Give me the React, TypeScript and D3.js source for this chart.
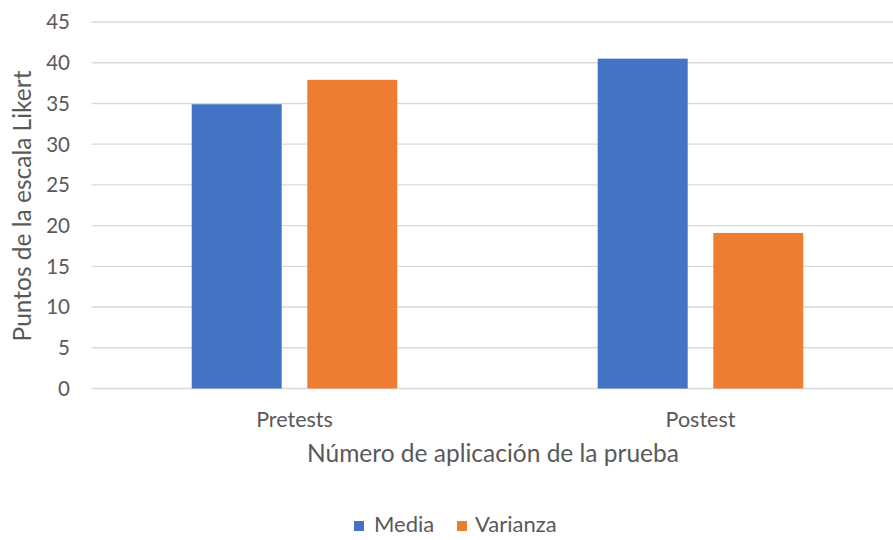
import * as d3 from 'd3';

const CATEGORIES = ['Pretests', 'Postest'];
const SERIES = ['Media', 'Varianza'];
const MEDIA = [34.9, 40.5];
const VARIANZA = [37.9, 19.1];
const Y_TICKS = [0, 5, 10, 15, 20, 25, 30, 35, 40, 45];

const COLORS: Record<string, string> = {
  Media: '#4472C4',
  Varianza: '#ED7D31',
};

const WIDTH = 893;
const HEIGHT = 540;
const FONT = 'Lato, "Open Sans", sans-serif';
const TEXT_COLOR = '#595959';

export default function App() {
  const x0 = d3.scaleBand<string>().domain(CATEGORIES).range([91.5, 903.5]);
  const x1 = d3.scaleBand<string>()
    .domain(SERIES)
    .range([0, x0.bandwidth()])
    .paddingInner(0.2215)
    .paddingOuter(0.867);
  const y = d3.scaleLinear().domain([0, 45]).range([388.5, 22]);

  const values: Record<string, number[]> = { Media: MEDIA, Varianza: VARIANZA };

  return (
    <div style={{ position: 'absolute', left: 0, top: 0 }}>
      <svg width={WIDTH} height={HEIGHT} style={{ fontFamily: FONT, display: 'block', background: 'white' }}>
        {/* gridlines + y ticks */}
        {Y_TICKS.map(t => (
          <g key={t}>
            <line x1={91.5} x2={903.5} y1={y(t)} y2={y(t)} stroke="#d9d9d9" strokeWidth={1.4} />
            <text x={70} y={y(t)} dy="0.36em" textAnchor="end" fontSize={20.5} fill={TEXT_COLOR}>{t}</text>
          </g>
        ))}

        {/* bars */}
        {CATEGORIES.map((c, ci) => (
          <g key={c} transform={`translate(${x0(c)},0)`}>
            {SERIES.map(s => (
              <rect
                key={s}
                x={x1(s)}
                y={y(values[s][ci])}
                width={x1.bandwidth()}
                height={y(0) - y(values[s][ci])}
                fill={COLORS[s]}
              />
            ))}
            <text
              x={x0.bandwidth() / 2}
              y={427}
              textAnchor="middle"
              fontSize={21.5}
              fill={TEXT_COLOR}
            >
              {c}
            </text>
          </g>
        ))}

        {/* axis titles */}
        <text x={493} y={462} textAnchor="middle" fontSize={24.5} fill={TEXT_COLOR}>
          Número de aplicación de la prueba
        </text>
        <text
          transform={`translate(31,206) rotate(-90)`}
          textAnchor="middle"
          fontSize={24.5}
          fill={TEXT_COLOR}
        >
          Puntos de la escala Likert
        </text>

        {/* legend */}
        <g transform="translate(354,532)">
          <rect x={0} y={-11} width={10} height={10} fill={COLORS.Media} />
          <text x={20} y={0} fontSize={22} fill={TEXT_COLOR}>Media</text>
          <rect x={103} y={-11} width={10} height={10} fill={COLORS.Varianza} />
          <text x={121} y={0} fontSize={22} fill={TEXT_COLOR}>Varianza</text>
        </g>
      </svg>
    </div>
  );
}
